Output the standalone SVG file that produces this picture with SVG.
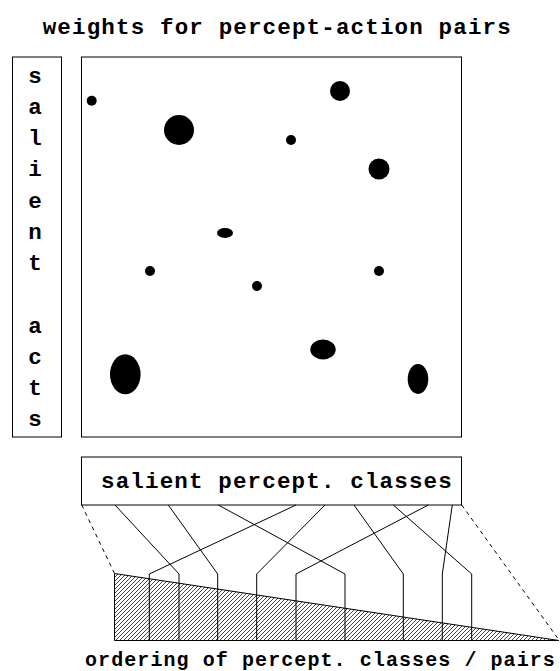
<svg xmlns="http://www.w3.org/2000/svg" width="560" height="671" viewBox="0 0 560 671">
  <style>
    .lbl { font-family: "Liberation Mono", "DejaVu Sans Mono", monospace; font-weight: bold; fill: #000; }
    .big { font-size: 22.5px; letter-spacing: 1.16px; }
    .col { font-size: 22.5px; text-anchor: middle; }
    .small { font-size: 20px; letter-spacing: 1.08px; }
    .frame { fill: #fff; stroke: #000; stroke-width: 1; }
    .blob { fill: #000; }
    .wire { fill: none; stroke: #000; stroke-width: 1; }
    .dash { fill: none; stroke: #000; stroke-width: 1; stroke-dasharray: 4 4; }
  </style>
  <defs>
    <pattern id="hatch" patternUnits="userSpaceOnUse" width="4" height="4">
      <path d="M-1,1 L1,-1 M0,4 L4,0 M3,5 L5,3" stroke="#333" stroke-width="0.9"/>
    </pattern>
  </defs>

  <rect width="560" height="671" fill="#fff"/>

  <!-- title -->
  <text id="title" class="lbl big" x="42.7" y="33.5">weights for percept-action pairs</text>

  <!-- vertical label column, one letter per row -->
  <g id="salient-acts">
    <rect class="frame" x="12.5" y="57" width="49" height="380"/>
    <text class="lbl col" x="35" y="83">s</text>
    <text class="lbl col" x="35" y="114">a</text>
    <text class="lbl col" x="35" y="145">l</text>
    <text class="lbl col" x="35" y="176">i</text>
    <text class="lbl col" x="35" y="208">e</text>
    <text class="lbl col" x="35" y="239">n</text>
    <text class="lbl col" x="35" y="270">t</text>
    <text class="lbl col" x="35" y="333">a</text>
    <text class="lbl col" x="35" y="364">c</text>
    <text class="lbl col" x="35" y="395">t</text>
    <text class="lbl col" x="35" y="426">s</text>
  </g>

  <!-- weight matrix -->
  <g id="weights">
    <rect class="frame" x="81.5" y="57" width="380" height="380"/>
    <circle class="blob" cx="91.7" cy="100.7" r="5"/>
    <circle class="blob" cx="179" cy="130" r="15"/>
    <circle class="blob" cx="340" cy="91" r="10"/>
    <circle class="blob" cx="291" cy="140" r="5"/>
    <circle class="blob" cx="379" cy="169" r="10.5"/>
    <ellipse class="blob" cx="225" cy="233" rx="8" ry="5"/>
    <circle class="blob" cx="150" cy="271" r="5"/>
    <circle class="blob" cx="379" cy="271" r="5"/>
    <circle class="blob" cx="257" cy="286" r="5"/>
    <ellipse class="blob" cx="323" cy="349.5" rx="12.7" ry="10"/>
    <ellipse class="blob" cx="125.3" cy="374.3" rx="15.3" ry="20"/>
    <ellipse class="blob" cx="418" cy="379" rx="10.3" ry="15"/>
  </g>

  <!-- percept class box -->
  <g id="percept-classes">
    <rect class="frame" x="81.5" y="457" width="380" height="48"/>
    <text class="lbl big" x="101" y="488">salient percept. classes</text>
  </g>

  <!-- ordering wedge -->
  <g id="ordering">
    <polygon points="114.5,573.5 114.5,640.5 559,640.5" fill="url(#hatch)" stroke="#000" stroke-width="1"/>
    <text class="lbl small" x="85" y="666">ordering of percept. classes / pairs</text>
  </g>

  <!-- connectors from classes to their rank -->
  <g id="connectors">
    <path class="dash" d="M81.7,505 L114.3,573"/>
    <path class="dash" d="M461.7,505 L559,640"/>
    <path class="wire" d="M115,505 L179,574 V640.5"/>
    <path class="wire" d="M168.3,505 L217.7,574 V640.5"/>
    <path class="wire" d="M218.3,505 L345,574 V640.5"/>
    <path class="wire" d="M296,505 L149.3,574 V640.5"/>
    <path class="wire" d="M325,505 L256.7,574 V640.5"/>
    <path class="wire" d="M354,505 L403.3,574 V640.5"/>
    <path class="wire" d="M393.3,505 L471.7,574 V640.5"/>
    <path class="wire" d="M428.3,505 L296,574 V640.5"/>
    <path class="wire" d="M452.3,505 L442.3,574 V640.5"/>
  </g>
</svg>
